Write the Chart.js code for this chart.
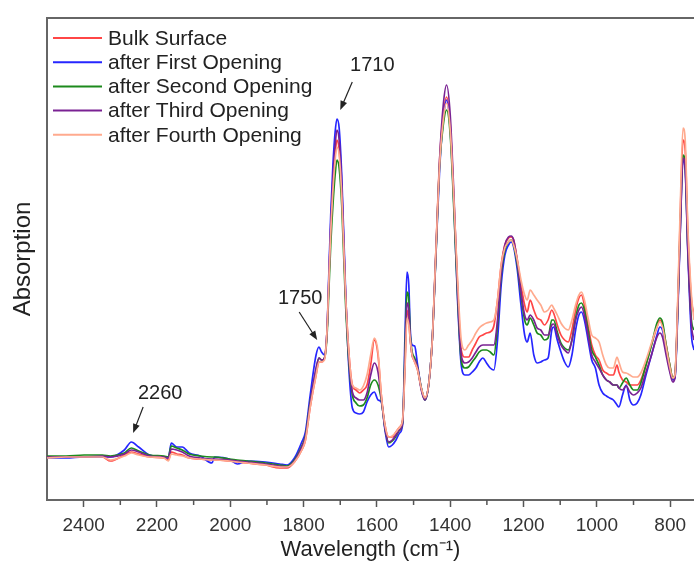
<!DOCTYPE html>
<html>
<head>
<meta charset="utf-8">
<script src="https://cdn.jsdelivr.net/npm/chart.js@4.4.0/dist/chart.umd.min.js"></script>
<style>
  html, body { margin: 0; padding: 0; background: #fff; }
  #c { display: block; }
</style>
</head>
<body>
<canvas id="c" width="694" height="563"></canvas>
<script>
// wavenumbers in cm-1
var wavenumbers = [
  2500, 2448, 2399, 2349, 2327, 2289, 2270, 2250, 2220, 2181,
  2169, 2161, 2146, 2131, 2112, 2082, 2050, 2043, 2003, 1981,
  1954, 1904, 1865, 1845, 1825, 1805, 1795, 1782, 1766, 1758,
  1751, 1743, 1736, 1731, 1726, 1720, 1714, 1709, 1703, 1696,
  1686, 1677, 1667, 1657, 1647, 1637, 1627, 1617, 1607, 1597,
  1588, 1578, 1568, 1558, 1548, 1538, 1530, 1523, 1518, 1513,
  1509, 1504, 1497, 1489, 1479, 1469, 1459, 1449, 1439, 1429,
  1419, 1410, 1400, 1390, 1380, 1370, 1360, 1350, 1340, 1330,
  1321, 1311, 1301, 1291, 1281, 1271, 1261, 1251, 1241, 1234,
  1227, 1217, 1207, 1197, 1190, 1182, 1172, 1163, 1153, 1143,
  1133, 1123, 1118, 1108, 1098, 1088, 1078, 1068, 1058, 1049,
  1042, 1034, 1024, 1014, 1004, 994, 984, 974, 965, 955,
  945, 940, 930, 920, 910, 900, 890, 880, 866, 851,
  836, 828, 821, 811, 801, 793, 787, 779, 772, 765,
  759, 752, 742, 735
];

// absorption (arbitrary units)
var bulkSurface = [
  43, 43, 43, 43, 39, 45, 48, 46, 43, 42,
  40, 48, 46, 45, 42, 41, 40, 40, 39, 38,
  37, 35, 32, 32, 38, 50, 60, 93, 125, 138,
  138, 142, 170, 220, 270, 315, 345, 360, 350, 310,
  210, 150, 115, 110, 107, 110, 115, 135, 160, 145,
  105, 75, 63, 63, 68, 73, 80, 140, 190, 180,
  160, 145, 138, 130, 112, 102, 115, 160, 250, 340,
  385, 403, 375, 300, 215, 150, 143, 143, 150, 157,
  163, 165, 167, 168, 174, 200, 235, 255, 262, 263,
  260, 240, 215, 195, 188, 200, 190, 182, 180, 175,
  180, 190, 187, 175, 165, 160, 158, 170, 190, 202,
  205, 195, 175, 155, 145, 140, 130, 127, 125, 125,
  135, 128, 120, 118, 115, 115, 115, 120, 135, 155,
  173, 180, 175, 155, 135, 122, 125, 200, 290, 360,
  350, 270, 200, 187
];
var firstOpening = [
  42, 42, 43, 43, 43, 50, 58, 53, 45, 43,
  42, 57, 53, 53, 47, 44, 37, 43, 41, 36,
  39, 38, 36, 35, 42, 58, 68, 105, 145, 153,
  148, 145, 170, 228, 285, 335, 368, 381, 372, 325,
  215, 135, 92, 87, 86, 88, 98, 105, 108, 100,
  98, 70, 53, 55, 60, 67, 75, 170, 228, 215,
  170, 155, 154, 135, 112, 100, 115, 160, 245, 330,
  380, 400, 370, 295, 200, 135, 125, 125, 128, 132,
  138, 142, 137, 132, 130, 160, 215, 245, 255, 258,
  253, 230, 195, 165, 158, 167, 145, 137, 138, 140,
  142, 170, 173, 160, 148, 138, 133, 145, 170, 185,
  188, 180, 160, 140, 132, 115, 107, 104, 102, 100,
  95, 93, 105, 115, 100, 95, 97, 105, 125, 145,
  165, 173, 170, 150, 130, 120, 122, 190, 275, 340,
  330, 250, 165, 150
];
var secondOpening = [
  44, 44, 45, 45, 44, 47, 52, 49, 45, 44,
  43, 54, 52, 50, 46, 44, 43, 43, 41, 40,
  39, 37, 35, 34, 40, 54, 64, 98, 130, 142,
  140, 142, 165, 210, 255, 295, 325, 340, 332, 295,
  200, 140, 105, 97, 94, 95, 102, 115, 120, 115,
  100, 72, 57, 59, 64, 70, 77, 155, 208, 200,
  165, 148, 142, 132, 112, 100, 115, 160, 245, 335,
  375, 390, 365, 290, 205, 140, 132, 133, 138, 143,
  148, 150, 150, 148, 145, 175, 225, 250, 258, 260,
  255, 235, 205, 180, 175, 182, 175, 167, 165, 160,
  162, 180, 180, 168, 157, 152, 150, 160, 182, 195,
  197, 190, 170, 150, 143, 135, 125, 120, 118, 115,
  115, 112, 117, 122, 115, 110, 110, 117, 135, 155,
  177, 182, 178, 155, 135, 122, 125, 195, 280, 345,
  335, 255, 180, 170
];
var thirdOpening = [
  43, 43, 43, 44, 43, 46, 50, 48, 44, 43,
  42, 51, 50, 48, 44, 42, 41, 41, 40, 39,
  38, 36, 34, 33, 39, 53, 63, 97, 132, 142,
  140, 142, 170, 222, 275, 322, 355, 370, 360, 317,
  210, 145, 108, 102, 100, 100, 107, 125, 137, 128,
  102, 72, 58, 60, 65, 70, 77, 145, 197, 190,
  162, 145, 140, 132, 110, 100, 115, 160, 248, 340,
  395, 415, 385, 305, 210, 145, 137, 138, 142, 148,
  153, 155, 155, 155, 155, 180, 228, 255, 263, 264,
  260, 238, 208, 185, 180, 185, 180, 172, 170, 165,
  165, 175, 176, 165, 155, 150, 147, 160, 180, 190,
  193, 185, 165, 145, 138, 132, 125, 120, 118, 115,
  115, 112, 110, 114, 108, 105, 107, 112, 128, 145,
  163, 167, 163, 145, 128, 118, 122, 195, 275, 342,
  332, 252, 175, 160
];
var fourthOpening = [
  42, 43, 43, 43, 40, 44, 47, 45, 43, 42,
  39, 46, 45, 44, 42, 41, 40, 40, 39, 38,
  37, 35, 33, 33, 38, 50, 60, 93, 125, 138,
  138, 140, 170, 220, 268, 310, 340, 353, 345, 305,
  210, 150, 115, 112, 110, 114, 125, 145, 162, 148,
  105, 75, 63, 64, 68, 73, 80, 135, 182, 175,
  160, 145, 138, 130, 112, 102, 115, 160, 250, 335,
  380, 397, 370, 300, 220, 160, 150, 155, 160, 167,
  172, 175, 177, 178, 180, 200, 235, 252, 258, 260,
  255, 240, 220, 205, 200, 210, 205, 200, 195, 188,
  190, 195, 192, 185, 177, 172, 170, 180, 195, 205,
  208, 200, 182, 165, 162, 158, 145, 135, 132, 132,
  143, 138, 128, 127, 125, 123, 123, 127, 140, 157,
  173, 178, 173, 153, 133, 122, 125, 205, 300, 372,
  360, 275, 205, 180
];

var seriesNames = ["Bulk Surface", "after First Opening", "after Second Opening", "after Third Opening", "after Fourth Opening"];
var seriesColors = ["#ff4646", "#2626ff", "#1c8a1c", "#7a2293", "#ffaa8e"];
var seriesValues = [bulkSurface, firstOpening, secondOpening, thirdOpening, fourthOpening];

var majorTicks = [2400, 2200, 2000, 1800, 1600, 1400, 1200, 1000, 800];
var minorTicks = [2300, 2100, 1900, 1700, 1500, 1300, 1100, 900];

// peak labels: text, wavenumber and value of the arrow tip
var peakLabels = ["2260", "1750", "1710"];
var peakTipX = [2265, 1763, 1700];
var peakTipY = [67, 160, 390];

var FONT = '"Liberation Sans", Arial, Helvetica, sans-serif';

function toPoints(vals) {
  var pts = [];
  for (var i = 0; i < vals.length; i++) {
    pts.push({ x: wavenumbers[i], y: vals[i] });
  }
  return pts;
}

var datasets = [];
for (var i = 0; i < seriesNames.length; i++) {
  datasets.push({
    label: seriesNames[i],
    data: toPoints(seriesValues[i]),
    borderColor: seriesColors[i],
    backgroundColor: seriesColors[i],
    borderWidth: 1.7,
    pointRadius: 0,
    cubicInterpolationMode: 'monotone',
    fill: false,
    order: seriesNames.length - i
  });
}

// frame top, minor ticks, legend and arrows
var extras = {
  id: 'extras',
  afterDraw: function (chart) {
    var ctx = chart.ctx;
    var a = chart.chartArea;
    var xs = chart.scales.x;
    var ys = chart.scales.y;
    ctx.save();

    ctx.strokeStyle = '#666';
    ctx.lineWidth = 2;
    ctx.beginPath();
    ctx.moveTo(a.left - 1, a.top);
    ctx.lineTo(chart.width, a.top);
    ctx.stroke();

    ctx.strokeStyle = '#555';
    ctx.lineWidth = 1.5;
    for (var m = 0; m < minorTicks.length; m++) {
      var mx = xs.getPixelForValue(minorTicks[m]);
      ctx.beginPath();
      ctx.moveTo(mx, a.bottom);
      ctx.lineTo(mx, a.bottom + 5);
      ctx.stroke();
    }

    // legend
    ctx.font = '21px ' + FONT;
    ctx.textBaseline = 'middle';
    ctx.textAlign = 'left';
    for (var k = 0; k < seriesNames.length; k++) {
      var ly = a.top + 20 + k * 24.2;
      ctx.strokeStyle = seriesColors[k];
      ctx.lineWidth = 2;
      ctx.beginPath();
      ctx.moveTo(a.left + 6, ly);
      ctx.lineTo(a.left + 55, ly);
      ctx.stroke();
      ctx.fillStyle = '#222';
      ctx.fillText(seriesNames[k], a.left + 61, ly + 1);
    }

    // peak annotations
    var textOff = [[27, -40], [-17, -42], [32, -45]];
    var startOff = [[10, -26], [-18, -28], [12, -28]];
    ctx.font = '20px ' + FONT;
    ctx.textAlign = 'center';
    for (var p = 0; p < peakLabels.length; p++) {
      var tx = xs.getPixelForValue(peakTipX[p]);
      var ty = ys.getPixelForValue(peakTipY[p]);
      ctx.fillStyle = '#222';
      ctx.fillText(peakLabels[p], tx + textOff[p][0], ty + textOff[p][1]);
      var sx = tx + startOff[p][0], sy = ty + startOff[p][1];
      var ang = Math.atan2(ty - sy, tx - sx);
      ctx.strokeStyle = '#222';
      ctx.lineWidth = 1.2;
      ctx.beginPath();
      ctx.moveTo(sx, sy);
      ctx.lineTo(tx - 6 * Math.cos(ang), ty - 6 * Math.sin(ang));
      ctx.stroke();
      ctx.beginPath();
      ctx.moveTo(tx, ty);
      ctx.lineTo(tx - 9 * Math.cos(ang) + 3.5 * Math.sin(ang), ty - 9 * Math.sin(ang) - 3.5 * Math.cos(ang));
      ctx.lineTo(tx - 9 * Math.cos(ang) - 3.5 * Math.sin(ang), ty - 9 * Math.sin(ang) + 3.5 * Math.cos(ang));
      ctx.closePath();
      ctx.fill();
    }
    ctx.restore();
  }
};

new Chart(document.getElementById('c'), {
  type: 'line',
  data: { datasets: datasets },
  options: {
    responsive: false,
    devicePixelRatio: 1,
    animation: false,
    layout: { padding: { top: 18, right: 0, bottom: 0, left: 0 } },
    plugins: { legend: { display: false }, tooltip: { enabled: false } },
    scales: {
      x: {
        type: 'linear',
        reverse: true,
        min: 735,
        max: 2500,
        afterBuildTicks: function (scale) {
          scale.ticks = majorTicks.map(function (v) { return { value: v }; });
        },
        afterFit: function (scale) { scale.height = 63; },
        grid: { drawOnChartArea: false, drawTicks: true, tickLength: 7, tickColor: '#555', tickWidth: 1.5 },
        border: { color: '#666', width: 2 },
        ticks: {
          padding: 7, color: '#333', font: { family: FONT, size: 19 }, maxRotation: 0, autoSkip: false,
          callback: function (v) { return String(v); }
        },
        title: { display: true, text: 'Wavelength (cm⁻¹)', color: '#222', font: { family: FONT, size: 22 }, padding: { top: 0, bottom: 0 } }
      },
      y: {
        min: 0,
        max: 482,
        afterFit: function (scale) { scale.width = 47; },
        grid: { drawOnChartArea: false, drawTicks: false },
        border: { color: '#666', width: 2 },
        ticks: { display: false },
        title: { display: true, text: 'Absorption', color: '#222', font: { family: FONT, size: 24 }, padding: { top: 9, bottom: 0 } }
      }
    }
  },
  plugins: [extras]
});
</script>
</body>
</html>
